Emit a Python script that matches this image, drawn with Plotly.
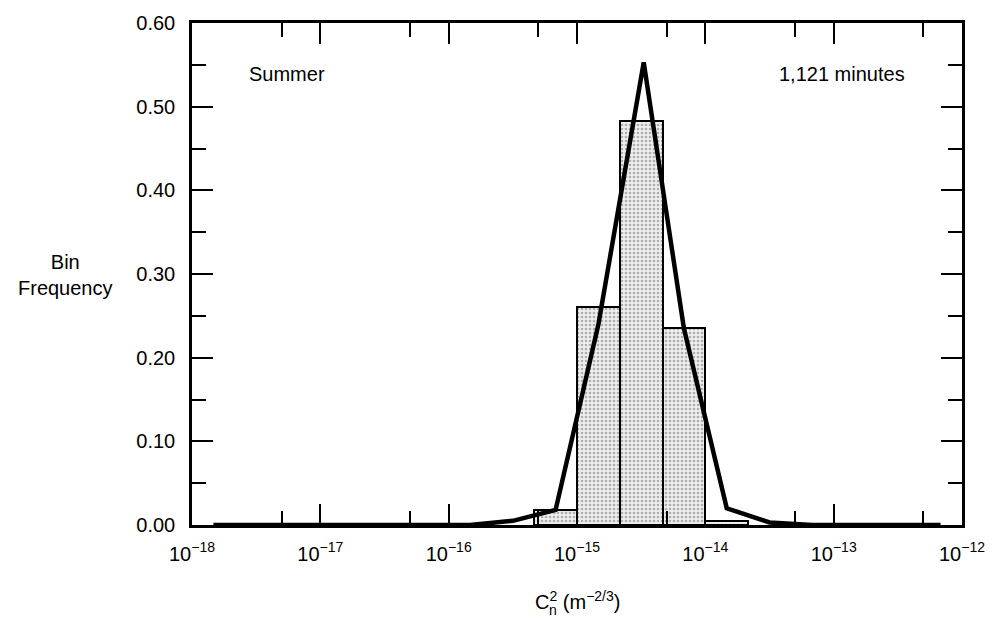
import plotly.graph_objects as go

# Histogram of C_n^2 in 1/3-decade bins (x given as log10 of C_n^2)
bin_left = [-15.333, -15.0, -14.667, -14.333, -14.0]
bin_right = [-15.0, -14.667, -14.333, -14.0, -13.667]
bin_freq = [0.018, 0.26, 0.483, 0.235, 0.005]

# Fitted frequency curve
curve_x = [-17.833, -17.5, -17.167, -16.833, -16.5, -16.167, -15.833, -15.5,
           -15.167, -14.833, -14.48, -14.167, -13.833, -13.5, -13.167, -12.833,
           -12.5, -12.167]
curve_y = [0, 0, 0, 0, 0, 0, 0, 0.005, 0.018, 0.24, 0.553, 0.235, 0.02,
           0.003, 0, 0, 0, 0]

x_major = [-18, -17, -16, -15, -14, -13, -12]
x_labels = ["10<sup>−18</sup>", "10<sup>−17</sup>", "10<sup>−16</sup>",
            "10<sup>−15</sup>", "10<sup>−14</sup>", "10<sup>−13</sup>",
            "10<sup>−12</sup>"]
x_minor = [-17.301, -16.301, -15.301, -14.301, -13.301, -12.301]
y_major = [0.0, 0.1, 0.2, 0.3, 0.4, 0.5, 0.6]
y_labels = ["0.00", "0.10", "0.20", "0.30", "0.40", "0.50", "0.60"]

FONT = "Liberation Sans, Arial, Helvetica, sans-serif"

centers = [(a + b) / 2 for a, b in zip(bin_left, bin_right)]
widths = [b - a for a, b in zip(bin_left, bin_right)]

fig = go.Figure()
fig.add_trace(go.Bar(
    x=centers, y=bin_freq, width=widths,
    marker=dict(
        color="#eeeeee",
        line=dict(color="black", width=2),
        pattern=dict(shape=".", fgcolor="#6e6e6e", bgcolor="#eeeeee",
                     size=4, solidity=0.35),
    ),
    showlegend=False,
))
fig.add_trace(go.Scatter(
    x=curve_x, y=curve_y, mode="lines",
    line=dict(color="black", width=4.5),
    showlegend=False,
))

axis_common = dict(
    showgrid=False, zeroline=False,
    showline=True, linecolor="black", linewidth=2.5,
    mirror="ticks", ticks="inside", ticklen=21, tickwidth=2, tickcolor="black",
    tickfont=dict(family=FONT, size=20, color="black"),
)

fig.update_xaxes(
    **axis_common,
    range=[-18, -12],
    tickmode="array", tickvals=x_major, ticktext=x_labels,
    minor=dict(tickmode="array", tickvals=x_minor, ticks="inside",
               ticklen=14, tickwidth=2, tickcolor="black"),
    ticklabelstandoff=9,
)
fig.update_yaxes(
    **axis_common,
    range=[0, 0.6],
    tickmode="array", tickvals=y_major, ticktext=y_labels,
    minor=dict(dtick=0.05, tick0=0, ticks="inside",
               ticklen=14, tickwidth=2, tickcolor="black"),
    ticklabelstandoff=10,
)

fig.add_annotation(x=-17.574, y=0.539, xref="x", yref="y", text="Summer",
                   showarrow=False, xanchor="left", yanchor="middle",
                   font=dict(family=FONT, size=20, color="black"))
fig.add_annotation(x=-12.426, y=0.539, xref="x", yref="y", text="1,121 minutes",
                   showarrow=False, xanchor="right", yanchor="middle",
                   font=dict(family=FONT, size=20, color="black"))
fig.add_annotation(x=-0.164, y=0.498, xref="paper", yref="paper",
                   text="Bin<br>Frequency", showarrow=False,
                   xanchor="center", yanchor="middle", align="center",
                   font=dict(family=FONT, size=20, color="black"))
# x-axis title: C with stacked superscript 2 and subscript n
fig.add_annotation(x=0.5, y=-0.151, xref="paper", yref="paper",
                   text="C<sup>2</sup> (m<sup>−2/3</sup>)",
                   showarrow=False, xanchor="center", yanchor="middle",
                   font=dict(family=FONT, size=20, color="black"))
fig.add_annotation(x=0.5, y=-0.151, xref="paper", yref="paper",
                   text="n", xshift=-24, yshift=-9,
                   showarrow=False, xanchor="center", yanchor="middle",
                   font=dict(family=FONT, size=14, color="black"))

fig.update_layout(
    width=997, height=620,
    margin=dict(l=192, r=30, t=21, b=95),
    paper_bgcolor="white", plot_bgcolor="white",
    bargap=0,
)

fig.write_html("out.html")
